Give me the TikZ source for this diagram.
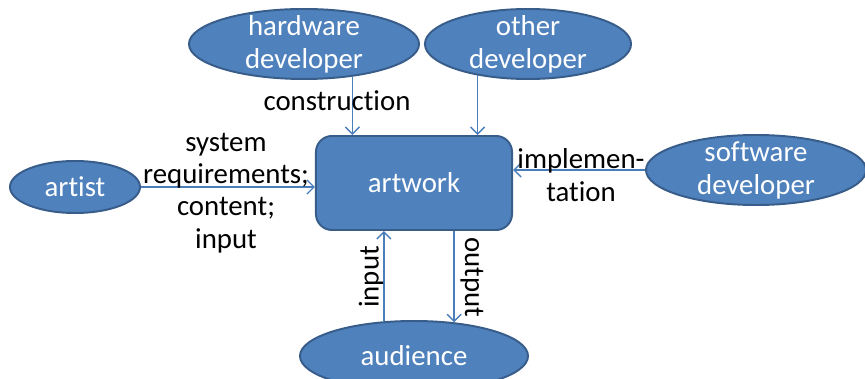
\documentclass[tikz,border=0pt]{standalone}
\usepackage{fontspec}
\setmainfont[Ligatures=NoCommon]{Carlito}
\usetikzlibrary{shapes.geometric,arrows.meta}
\definecolor{boxblue}{HTML}{4F81BD}
\definecolor{boxedge}{HTML}{385D8A}
\definecolor{linkblue}{HTML}{4A7EBB}
\begin{document}
\begin{tikzpicture}[x=0.025cm,y=0.025cm,
  actor/.style={ellipse,draw=boxedge,line width=1.4pt,fill=boxblue,text=white,inner xsep=0pt,inner ysep=-9pt,align=center,font=\fontsize{20.5}{23.5}\selectfont},
  link/.style={linkblue,line width=1pt,-{Straight Barb[length=5pt,width=10pt]}},
  lbl/.style={align=center,font=\fontsize{20.5}{23}\selectfont}]
\useasboundingbox (0,0) rectangle (865,-379);
\node[actor,minimum width=5.75cm,minimum height=1.75cm] (hw) at (304,-44) {hardware\\developer};
\node[actor,minimum width=5.15cm,minimum height=1.75cm] (other) at (528,-44) {other\\developer};
\node[actor,minimum width=5.5cm,minimum height=1.75cm] (sw) at (756,-170) {software\\developer};
\node[actor,minimum width=3.25cm,minimum height=1.3cm] (artist) at (75,-187) {artist};
\node[actor,minimum width=5.7cm,minimum height=1.75cm] (aud) at (414,-356) {audience};
\node[draw=boxedge,line width=1.4pt,fill=boxblue,text=white,rounded corners=0.4cm,minimum width=4.9cm,minimum height=2.35cm,font=\fontsize{20.5}{23.5}\selectfont] (art) at (414,-183) {artwork};
\draw[link] (hw.-34) -- (hw.-34 |- art.north);
\draw[link] (other.-148) -- (other.-148 |- art.north);
\draw[link] (artist.east) -- (artist.east -| art.west);
\draw[link] (sw.west) -- (sw.west -| art.east);
\draw[link] (aud.131) -- (aud.131 |- art.south);
\draw[link] (aud.40 |- art.south) -- (aud.40);
\node[lbl] (construct) at (337,-101) {construction};
\node[lbl] (require) at (226,-193) {system\\requirements;\\content;\\input};
\node[lbl] (implement) at (581,-175) {implemen-\\tation};
\node[lbl,rotate=90] (inlbl) at (371,-277) {input};
\node[lbl,rotate=-90] (outlbl) at (472,-277) {output};
\end{tikzpicture}
\end{document}
